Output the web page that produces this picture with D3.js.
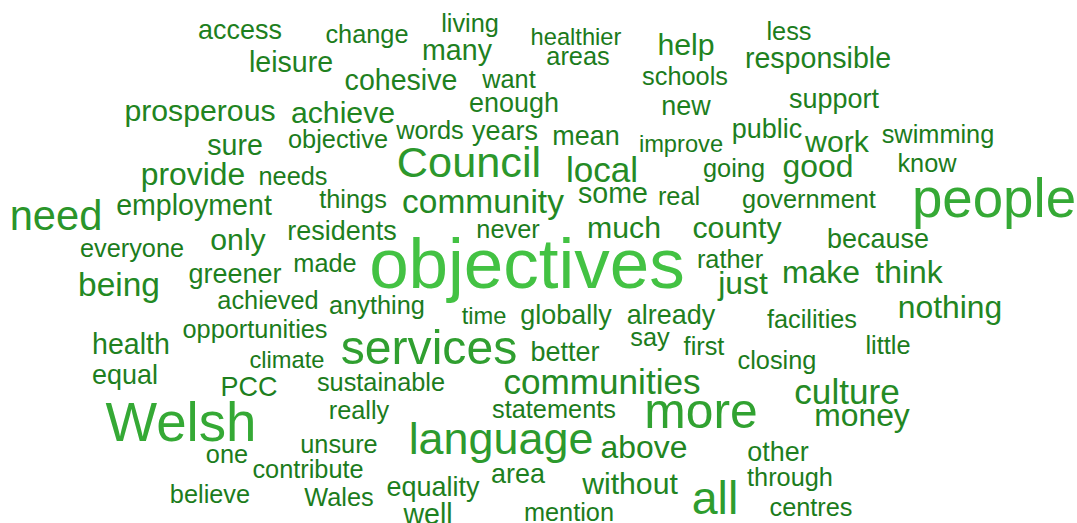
<!DOCTYPE html>
<html>
<head>
<meta charset="utf-8">
<script src="https://cdn.jsdelivr.net/npm/d3@7"></script>
<style>
    body { margin: 0; background: #fff; }
    svg text { font-family: "Liberation Sans", Arial, sans-serif; }
</style>
</head>
<body>
<svg id="cloud"></svg>
<script>
// words and how often they were mentioned
const words = [
    "objectives", "Welsh", "people", "more", "services", "all", "language", "Council", "need",
    "culture", "communities", "local", "being", "community",
    "money", "make", "think", "nothing", "just", "good", "provide", "above",
    "work", "achieve", "prosperous", "only", "county", "without", "help", "much",
    "well", "employment", "many", "cohesive", "some", "responsible", "health", "sure", "leisure",
    "better", "access", "support", "globally", "residents", "already", "public", "enough", "new",
    "greener", "because", "equality", "equal", "PCC", "area", "mean", "other", "years",
    "schools", "want", "areas", "say", "going", "one", "everyone", "really", "contribute",
    "swimming", "closing", "statements", "government", "objective", "needs", "facilities", "little",
    "sustainable", "rather", "centres", "mention", "change", "anything", "made", "things",
    "achieved", "living", "through", "believe", "never", "real", "unsure", "opportunities",
    "words", "less", "know", "first", "Wales",
    "time", "healthier", "improve", "climate"
];
const counts = [
    30, 20, 20, 17, 16, 15, 14, 13, 12,
    8, 8, 8, 7, 7,
    6, 6, 6, 6, 6, 6, 6, 6,
    5, 5, 5, 5, 5, 5, 5, 5,
    4, 4, 4, 4, 4, 4, 4, 4, 4,
    3, 3, 3, 3, 3, 3, 3, 3, 3,
    3, 3, 3, 3, 3, 3, 3, 3, 3,
    2, 2, 2, 2, 2, 2, 2, 2, 2,
    2, 2, 2, 2, 2, 2, 2, 2,
    2, 2, 2, 2, 2, 2, 2, 2,
    2, 2, 2, 2, 2, 2, 2, 2,
    2, 2, 2, 2, 2,
    1, 1, 1, 1
];
// where the cloud layout put each word: [centre, baseline]
const placement = [
    [527, 288], [181, 441], [994, 217], [701, 428], [429, 364], [715, 514], [501, 454], [469, 177], [56, 230],
    [847, 404], [602, 394], [602, 182], [119, 296], [483, 213],
    [862, 426], [821, 283], [909, 283], [950, 318], [743, 294], [818, 177], [193, 185], [644, 458],
    [837, 152], [343, 123], [200, 121], [238, 250], [737, 238], [630, 494], [686, 55], [624, 238],
    [428, 524], [194, 215], [457, 60], [401, 90], [613, 203], [818, 68], [131, 354], [235, 155], [291, 72],
    [565, 361], [240, 39], [834, 108], [566, 324], [342, 240], [671, 324], [767, 138], [514, 112], [686, 115],
    [235, 283], [878, 248], [433, 496], [125, 384], [249, 396], [518, 483], [586, 145], [778, 461], [505, 140],
    [685, 85], [509, 88], [578, 65], [650, 346], [734, 177], [227, 463], [132, 257], [359, 419], [308, 478],
    [938, 143], [777, 369], [554, 418], [809, 208], [338, 148], [293, 185], [812, 328], [888, 354],
    [381, 391], [730, 268], [811, 516], [569, 521], [367, 43], [377, 314], [325, 272], [353, 208],
    [268, 309], [470, 32], [790, 486], [210, 503], [508, 238], [679, 205], [339, 453], [255, 338],
    [430, 139], [789, 40], [927, 172], [704, 355], [339, 506],
    [484, 324], [576, 45], [681, 152], [287, 368]
];

const width = 1077;
const height = 523;

const data = words.map((w, i) => ({ text: w, count: counts[i], pos: placement[i] }));

const svg = d3.select("#cloud")
    .attr("width", width)
    .attr("height", height);

const xScale = d3.scaleLinear().domain([0, 1077]).range([0, width]);
const yScale = d3.scaleLinear().domain([0, 523]).range([0, height]);

const sizeScale = d3.scaleLinear()
    .domain([1, 30])
    .range([23.7, 71]);

const colorScale = d3.scaleLinear()
    .domain([1, 30])
    .range(["#1b7a1b", "#43c243"]);

svg.append("g")
    .selectAll("text")
    .data(data)
    .enter()
    .append("text")
    .attr("x", d => xScale(d.pos[0]))
    .attr("y", d => yScale(d.pos[1]))
    .attr("text-anchor", "middle")
    .attr("font-size", d => sizeScale(d.count) + "px")
    .attr("fill", d => colorScale(d.count))
    .text(d => d.text);
</script>
</body>
</html>
